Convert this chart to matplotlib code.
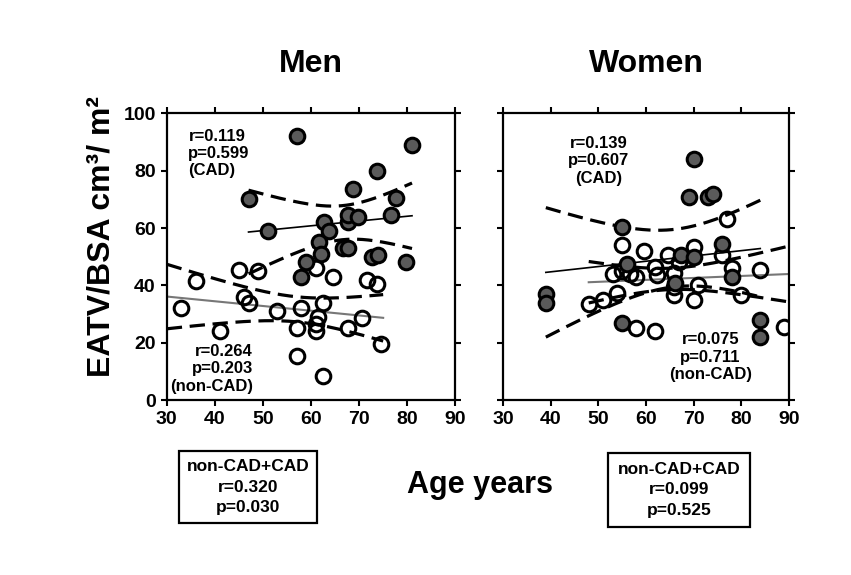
import numpy as np
import matplotlib
matplotlib.use('Agg')
import matplotlib.pyplot as plt

plt.rcParams['font.family'] = ['Liberation Sans', 'DejaVu Sans']
plt.rcParams['font.weight'] = 'bold'

# ---------------- data ----------------
men_cad_age = [47, 51, 57, 58, 59, 61.7, 62, 62.7, 63.7, 66.7, 67.7, 67.7, 67.7,
               68.7, 69.8, 72.7, 74, 73.7, 76.7, 77.7, 79.8, 81]
men_cad_val = [70, 59, 92, 43, 48, 55, 51, 62, 59, 53, 53, 62, 64.5,
               73.5, 64, 50, 50.5, 80, 64.5, 70.5, 48, 89]
men_non_age = [33, 36, 41, 45, 46, 47, 49, 53, 57, 57, 58, 61, 61, 61, 61.5,
               62.5, 62.5, 64.6, 67.7, 70.6, 71.7, 73.7, 74.6]
men_non_val = [32, 41.5, 24, 45.5, 36, 34, 45, 31, 25, 15.5, 32, 46, 24, 26.5, 29,
               34, 8.5, 43, 25, 28.5, 42, 40.5, 19.5]

women_cad_age = [39, 39, 55, 55, 56, 67.3, 69, 70, 73, 74, 76, 78, 84, 84, 66, 70]
women_cad_val = [37, 34, 27, 60.5, 47.5, 50.5, 70.7, 84, 70.7, 72, 54.5, 43, 28, 22, 41, 50]
women_non_age = [48, 51, 53, 54, 55, 55, 58, 58, 59.5, 62, 62, 62.4, 64.7, 65.8,
                 65.8, 65.8, 70, 70, 71, 76, 77, 78, 80, 84, 89, 56.7, 67]
women_non_val = [33.5, 35, 44, 37.5, 54, 45, 43, 25, 52, 24, 46.5, 43.5, 50.5, 44.5,
                 39.5, 36.6, 53.5, 35, 40, 50.5, 63, 46, 36.5, 45.5, 25.5, 44, 48]

men_cad_range = [47, 81]
men_non_range = [30, 75]
women_cad_range = [39, 84]
women_non_range = [48, 90]

x_ticks = [30, 40, 50, 60, 70, 80, 90]
y_ticks = [0, 20, 40, 60, 80, 100]

FILL = '#5a5a5a'


def tcrit(df):
    z = 1.959964
    return z + (z**3 + z) / (4 * df) + (5 * z**5 + 16 * z**3 + 3 * z) / (96 * df**2)


def fit_band(ax, x, y, xr, color, lw):
    x = np.asarray(x, float)
    y = np.asarray(y, float)
    n = len(x)
    b, a = np.polyfit(x, y, 1)
    xs = np.linspace(xr[0], xr[1], 200)
    yhat = a + b * xs
    resid = y - (a + b * x)
    s = np.sqrt(np.sum(resid**2) / (n - 2))
    sxx = np.sum((x - x.mean())**2)
    hw = tcrit(n - 2) * s * np.sqrt(1.0 / n + (xs - x.mean())**2 / sxx)
    ax.plot(xs, yhat, color=color, lw=lw, zorder=2)
    for sgn in (1, -1):
        ax.plot(xs, yhat + sgn * hw, color='black', lw=2.3, ls=(0, (4.8, 2.4)),
                zorder=2)


fig = plt.figure(figsize=(8.51, 5.75), dpi=100)
ax1 = fig.add_axes([0.196, 0.304, 0.339, 0.499])
ax2 = fig.add_axes([0.591, 0.304, 0.336, 0.499])

for ax, ca, cv, na, nv, cr, nr in [
        (ax1, men_cad_age, men_cad_val, men_non_age, men_non_val, men_cad_range, men_non_range),
        (ax2, women_cad_age, women_cad_val, women_non_age, women_non_val, women_cad_range, women_non_range)]:
    fit_band(ax, ca, cv, cr, 'black', 1.2)
    fit_band(ax, na, nv, nr, '#777777', 1.5)
    ax.plot(na, nv, 'o', ms=10.5, mfc='none', mec='black', mew=2.2, zorder=3)
    ax.plot(ca, cv, 'o', ms=10.5, mfc=FILL, mec='black', mew=2.2, zorder=4)
    ax.set_xlim(30, 90)
    ax.set_ylim(0, 100)
    ax.set_xticks(x_ticks)
    ax.set_yticks(y_ticks)
    ax.tick_params(direction='out', length=4, width=1.5, top=True, right=True,
                   labelsize=14, pad=4)
    for sp in ax.spines.values():
        sp.set_linewidth(1.6)

ax2.set_yticklabels([])

ax1.set_title('Men', fontsize=23, fontweight='bold', pad=30)
ax2.set_title('Women', fontsize=23, fontweight='bold', pad=30)
ax1.set_ylabel('EATV/BSA cm³/ m²', fontsize=23, fontweight='bold')
ax1.yaxis.set_label_coords(-0.175, 0.57)

ann = dict(fontsize=12, fontweight='bold', va='center', linespacing=1.2)
ax1.text(34.5, 86, 'r=0.119\np=0.599\n(CAD)', ha='left', **ann)
ax1.text(47.9, 11, 'r=0.264\np=0.203\n(non-CAD)', ha='right', **ann)
ax2.text(50, 83.5, 'r=0.139\np=0.607\n(CAD)', ha='center', **ann)
ax2.text(73.5, 15, 'r=0.075\np=0.711\n(non-CAD)', ha='center', **ann)

fig.text(480 / 851, 1 - 485 / 575, 'Age years', fontsize=22, fontweight='bold',
         ha='center', va='center')

box = dict(boxstyle='square,pad=0.45', fc='white', ec='black', lw=1.6)
box2 = dict(boxstyle='square,pad=0.55', fc='white', ec='black', lw=1.6)
fig.text(248 / 851, 1 - 487 / 575, 'non-CAD+CAD\nr=0.320\np=0.030', fontsize=12.5,
         fontweight='bold', ha='center', va='center', linespacing=1.45, bbox=box)
fig.text(679 / 851, 1 - 490 / 575, 'non-CAD+CAD\nr=0.099\np=0.525', fontsize=12.5,
         fontweight='bold', ha='center', va='center', linespacing=1.45, bbox=box2)

fig.savefig('out.png', dpi=100, facecolor='white')
